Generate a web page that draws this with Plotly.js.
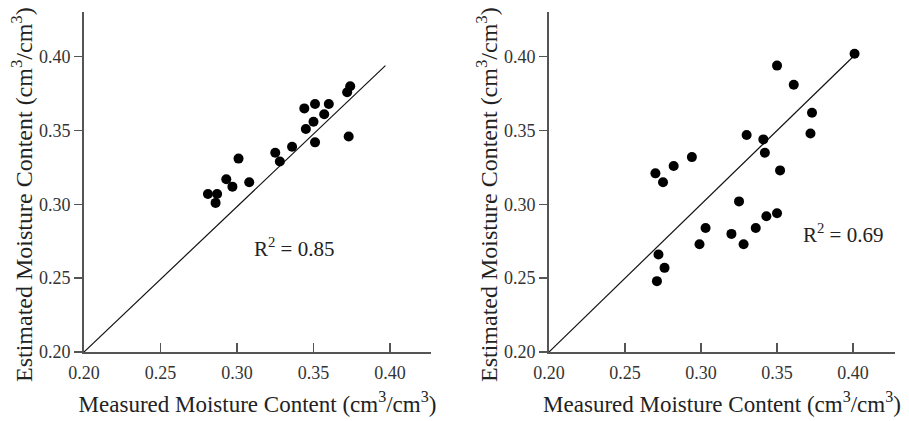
<!DOCTYPE html>
<html>
<head>
<meta charset="utf-8">
<script src="https://cdn.plot.ly/plotly-3.0.1.min.js"></script>
<style>html,body{margin:0;padding:0;background:#fff;}#chart{width:909px;height:421px;}</style>
</head>
<body>
<div id="chart"></div>
<script>
// Left panel (R^2 = 0.85)
const leftMeasured = [0.281, 0.287, 0.286, 0.293, 0.297, 0.301, 0.308, 0.325, 0.328, 0.336, 0.344, 0.345, 0.350, 0.351, 0.351, 0.357, 0.360, 0.372, 0.374, 0.373];
const leftEstimated = [0.307, 0.307, 0.301, 0.317, 0.312, 0.331, 0.315, 0.335, 0.329, 0.339, 0.365, 0.351, 0.356, 0.368, 0.342, 0.361, 0.368, 0.376, 0.380, 0.346];
const leftFitX = [0.20, 0.397];
const leftFitY = [0.20, 0.394];
// Right panel (R^2 = 0.69)
const rightMeasured = [0.401, 0.350, 0.361, 0.373, 0.372, 0.330, 0.341, 0.342, 0.352, 0.294, 0.282, 0.270, 0.275, 0.325, 0.343, 0.350, 0.336, 0.320, 0.328, 0.303, 0.299, 0.272, 0.276, 0.271];
const rightEstimated = [0.402, 0.394, 0.381, 0.362, 0.348, 0.347, 0.344, 0.335, 0.323, 0.332, 0.326, 0.321, 0.315, 0.302, 0.292, 0.294, 0.284, 0.280, 0.273, 0.284, 0.273, 0.266, 0.257, 0.248];
const rightFitX = [0.20, 0.40];
const rightFitY = [0.20, 0.40];
const tickVals = [0.20, 0.25, 0.30, 0.35, 0.40];
const tickText = ['0.20', '0.25', '0.30', '0.35', '0.40'];
const r2Labels = ['R<sup>2</sup> = 0.85', 'R<sup>2</sup> = 0.69'];
const xTitle = 'Measured Moisture Content (cm<sup>3</sup>/cm<sup>3</sup>)';
const yTitle = 'Estimated Moisture Content (cm<sup>3</sup>/cm<sup>3</sup>)';

const W = 909, H = 421;
const serif = 'Liberation Serif, Times New Roman, serif';
const axisColor = '#555';

const pts = (x, y, xa, ya) => ({x, y, xaxis: xa, yaxis: ya, type: 'scatter', mode: 'markers',
  marker: {color: '#000', size: 10}, showlegend: false, hoverinfo: 'x+y'});
const fit = (x, y, xa, ya) => ({x, y, xaxis: xa, yaxis: ya, type: 'scatter', mode: 'lines',
  line: {color: '#111', width: 1.2}, showlegend: false, hoverinfo: 'skip'});

const data = [
  fit(leftFitX, leftFitY, 'x', 'y'),
  pts(leftMeasured, leftEstimated, 'x', 'y'),
  fit(rightFitX, rightFitY, 'x2', 'y2'),
  pts(rightMeasured, rightEstimated, 'x2', 'y2')
];

const xa = (dom, anchor, range) => ({
  domain: dom, anchor: anchor, range: range, showgrid: false, zeroline: false,
  showline: true, linecolor: axisColor, linewidth: 2,
  ticks: 'inside', ticklen: 9, tickwidth: 1.5, tickcolor: axisColor,
  tickmode: 'array', tickvals: tickVals, ticktext: tickText, ticklabelstandoff: 3,
  tickfont: {family: serif, size: 18, color: '#333'},
  title: {text: xTitle, font: {family: serif, size: 23, color: '#222'}, standoff: 14},
  automargin: false, fixedrange: true
});
const ya = (dom, anchor, range) => ({
  domain: dom, anchor: anchor, range: range, showgrid: false, zeroline: false,
  showline: true, linecolor: axisColor, linewidth: 2,
  ticks: 'outside', ticklen: 8, tickwidth: 1.5, tickcolor: axisColor,
  tickmode: 'array', tickvals: tickVals, ticktext: tickText,
  tickfont: {family: serif, size: 18, color: '#333'},
  automargin: false, fixedrange: true
});

const yDom = [(H - 352) / H, (H - 12) / H];
const layout = {
  width: W, height: H,
  margin: {l: 0, r: 0, t: 0, b: 0},
  paper_bgcolor: '#fff', plot_bgcolor: '#fff',
  font: {family: serif, color: '#222'},
  xaxis: xa([84 / W, 431 / W], 'y', [0.2, 0.4268]),
  yaxis: ya(yDom, 'x', [0.2, 0.4303]),
  xaxis2: xa([549 / W, 895 / W], 'y2', [0.2, 0.4276]),
  yaxis2: ya(yDom, 'x2', [0.2, 0.4303]),
  annotations: [
    {text: r2Labels[0], x: 0.3373, y: 0.2711, xref: 'x', yref: 'y', showarrow: false,
     font: {family: serif, size: 21, color: '#222'}},
    {text: r2Labels[1], x: 0.3934, y: 0.2806, xref: 'x2', yref: 'y2', showarrow: false,
     font: {family: serif, size: 21, color: '#222'}},
    {text: yTitle, textangle: -90, x: 22 / W, y: 1 - 195 / H, xref: 'paper', yref: 'paper',
     xanchor: 'center', yanchor: 'middle', showarrow: false,
     font: {family: serif, size: 24, color: '#222'}},
    {text: yTitle, textangle: -90, x: 487 / W, y: 1 - 195 / H, xref: 'paper', yref: 'paper',
     xanchor: 'center', yanchor: 'middle', showarrow: false,
     font: {family: serif, size: 24, color: '#222'}}
  ]
};

Plotly.newPlot('chart', data, layout, {displayModeBar: false, staticPlot: true});
</script>
</body>
</html>
